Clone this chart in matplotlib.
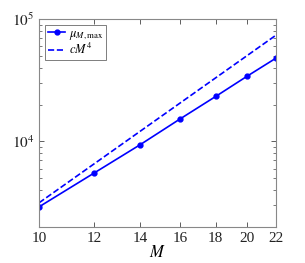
import numpy as np
import matplotlib.pyplot as plt
from matplotlib.ticker import LogLocator, NullFormatter, NullLocator, FixedLocator, FixedFormatter

plt.rcParams['font.family'] = 'Liberation Serif'
plt.rcParams['mathtext.fontset'] = 'stix'

# data
M = [10, 12, 14, 16, 18, 20, 22]
mu_max = [2920, 5500, 9400, 15300, 23300, 34200, 47900]
c = 0.315

M_fit = np.array([10, 22])
fit = c * M_fit**4.0

fig = plt.figure(figsize=(3.05, 2.63), dpi=100)
ax = fig.add_axes([39/305, 1 - 227/263, 237/305, 208/263])

ax.plot(M, mu_max, '-o', color='blue', lw=1.2, ms=3.5, label=r'$\mu_{M,\max}$')
ax.plot(M_fit, fit, '--', color='blue', lw=1.2, label=r'$cM^4$')

ax.set_xscale('log')
ax.set_yscale('log')
ax.set_xlim(10, 22)
ax.set_ylim(2000, 1e5)
ax.xaxis.set_major_locator(FixedLocator(M))
ax.xaxis.set_major_formatter(FixedFormatter([str(m) for m in M]))
ax.xaxis.set_minor_locator(NullLocator())
ax.yaxis.set_major_locator(FixedLocator([1e4, 1e5]))
ax.yaxis.set_major_formatter(FixedFormatter([r'$10^4$', r'$10^5$']))
ax.yaxis.set_minor_locator(LogLocator(base=10, subs=np.arange(2, 10)))
ax.yaxis.set_minor_formatter(NullFormatter())
ax.set_xlabel(r'$M$', fontsize=12, labelpad=0)

ax.tick_params(which='both', direction='in', top=True, right=True,
               colors='#444444', labelcolor='#222222', labelsize=11)
ax.tick_params(which='major', length=3.5, width=0.6)
ax.tick_params(which='minor', length=2, width=0.5)
for s in ax.spines.values():
    s.set_color('#888888')
    s.set_linewidth(0.8)

leg = ax.legend(loc='upper left', fontsize=9, frameon=True, fancybox=False,
                borderaxespad=0.5, handlelength=1.4, borderpad=0.2,
                labelspacing=0.05, handletextpad=0.3)
leg.get_frame().set_edgecolor('#444444')
leg.get_frame().set_linewidth(0.6)

fig.savefig('out.png', dpi=100)
